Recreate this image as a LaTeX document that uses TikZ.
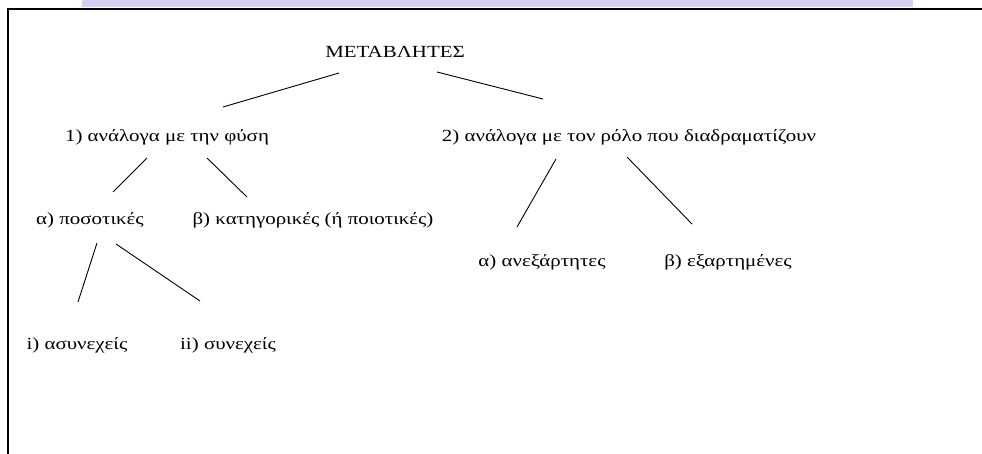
\documentclass[tikz,border=0pt]{standalone}
\usepackage{fontspec}
\setmainfont[FakeStretch=1.23]{Liberation Serif}
\usetikzlibrary{positioning}
\definecolor{band}{RGB}{212,208,242}

\begin{document}
\begin{tikzpicture}[x=1pt, y=-1pt, every node/.style={font=\fontsize{17}{20}\selectfont, inner sep=0pt},
  lbl/.style={anchor=center}, edge/.style={line width=0.9pt}]
\useasboundingbox (0,0) rectangle (982,454);
\fill[band] (82,0) rectangle (913,7);
\draw[line width=2.4pt] (982,9) -- (8,9) -- (8,454);
% tree
\node[lbl] (title) at (395,52) {ΜΕΤΑΒΛΗΤΕΣ};
\node[lbl] (nat) at (167,137) {1) ανάλογα με την φύση};
\node[lbl] (role) at (629,137) {2) ανάλογα με τον ρόλο που διαδραματίζουν};
\node[lbl] (quant) at (90,220) {α) ποσοτικές};
\node[lbl] (categ) at (313,220) {β) κατηγορικές (ή ποιοτικές)};
\node[lbl] (indep) at (542,262) {α) ανεξάρτητες};
\node[lbl] (dep) at (728,262) {β) εξαρτημένες};
\node[lbl] (disc) at (77,345) {i) ασυνεχείς};
\node[lbl] (cont) at (228,345) {ii) συνεχείς};
\draw[edge] ([shift={(-56,21)}]title.center) -- ([shift={(56,-30)}]nat.center);
\draw[edge] ([shift={(42,20)}]title.center) -- ([shift={(-86,-38)}]role.center);
\draw[edge] ([shift={(-20,21)}]nat.center) -- ([shift={(23,-28)}]quant.center);
\draw[edge] ([shift={(40,21)}]nat.center) -- ([shift={(-66,-23)}]categ.center);
\draw[edge] ([shift={(-73,22)}]role.center) -- ([shift={(-25,-35)}]indep.center);
\draw[edge] ([shift={(-2,20)}]role.center) -- ([shift={(-36,-38)}]dep.center);
\draw[edge] ([shift={(7,23)}]quant.center) -- ([shift={(1,-43)}]disc.center);
\draw[edge] ([shift={(26,24)}]quant.center) -- ([shift={(-28,-44)}]cont.center);
\end{tikzpicture}
\end{document}
